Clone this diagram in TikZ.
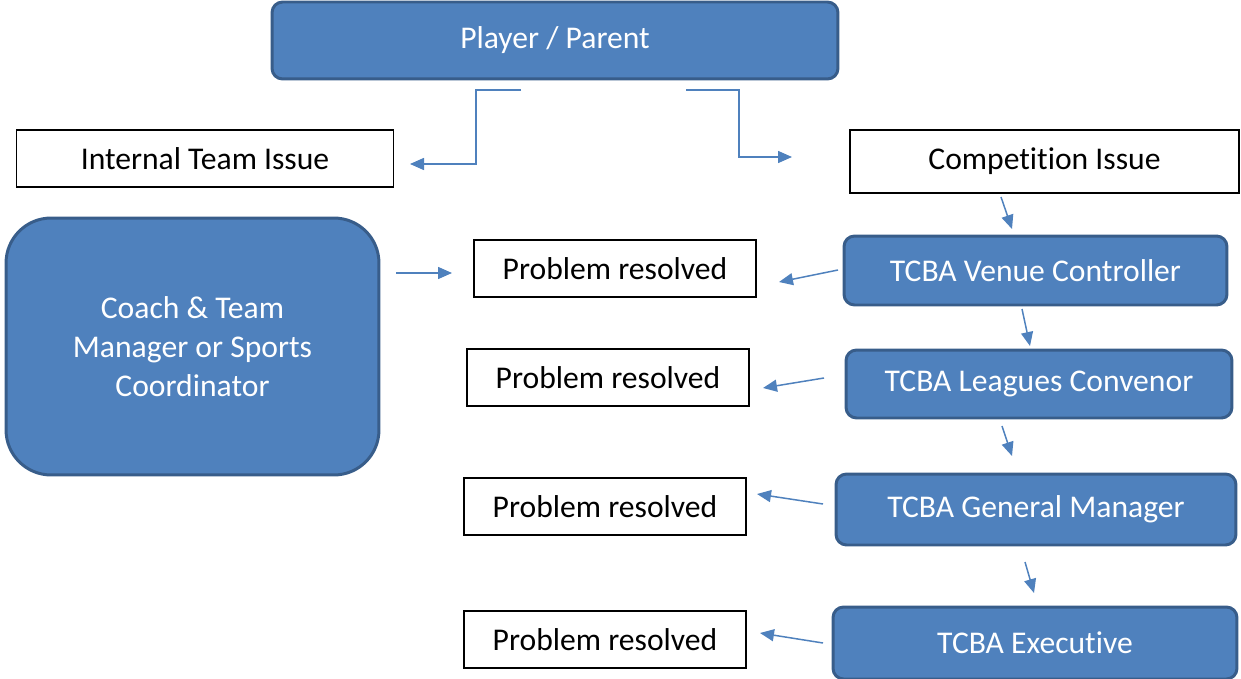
\documentclass[tikz,border=0pt]{standalone}
\usepackage{fontspec}
\setmainfont{Carlito}[Ligatures={NoCommon}]
\usepackage{tikz}
\usetikzlibrary{arrows.meta,positioning}

\definecolor{boxblue}{HTML}{4F81BD}
\definecolor{boxedge}{HTML}{385D8A}

\tikzset{
  bluebox/.style={draw=boxedge, fill=boxblue, line width=1.7pt, rounded corners=6pt,
    text=white, font=\fontsize{18}{22}\selectfont, align=center, inner sep=2pt},
  plainbox/.style={draw=black, line width=0.8pt, fill=white,
    font=\fontsize{18}{22}\selectfont, align=center, inner sep=2pt},
  arr/.style={draw=boxblue, line width=0.85pt,
    -{Triangle[length=0.28cm, width=0.24cm]}}
}

\begin{document}
\begin{tikzpicture}[x=0.02cm, y=-0.02cm]
\useasboundingbox (0,0) rectangle (1241,679);
\node [bluebox, minimum width=11.32cm, minimum height=1.54cm] (parent) at (555,40.5) {Player / Parent};
%----------------------------------
\node [plainbox, minimum width=7.54cm, minimum height=1.14cm] (internal) at (205,158.5) {Internal Team Issue};
\node [plainbox, minimum width=7.78cm, minimum height=1.26cm] (comp) at (1044.5,161.5) {Competition Issue};
\node [bluebox, rounded corners=0.9cm, minimum width=7.46cm, minimum height=5.14cm] (coach) at (192.5,346.5)
  {Coach \& Team\\ Manager or Sports\\ Coordinator};
%----------------------------------
\node [bluebox, minimum width=7.66cm, minimum height=1.38cm] (venue) at (1035.5,270.5) {TCBA Venue Controller};
\node [bluebox, minimum width=7.72cm, minimum height=1.36cm] (leagues) at (1039,384) {TCBA Leagues Convenor};
\node [bluebox, minimum width=8.0cm, minimum height=1.42cm] (gm) at (1036,509.5) {TCBA General Manager};
\node [bluebox, minimum width=8.08cm, minimum height=1.44cm] (exec) at (1035,643) {TCBA Executive};
%----------------------------------
\node [plainbox, minimum width=5.64cm, minimum height=1.14cm] (res1) at (615,268.5) {Problem resolved};
\node [plainbox, minimum width=5.64cm, minimum height=1.14cm] (res2) at (608,377.5) {Problem resolved};
\node [plainbox, minimum width=5.64cm, minimum height=1.14cm] (res3) at (605,506.5) {Problem resolved};
\node [plainbox, minimum width=5.64cm, minimum height=1.14cm] (res4) at (605,639.5) {Problem resolved};
%----------------------------------
\coordinate (l1) at (521,90); \coordinate (l2) at (410,164);
\coordinate (r1) at (686,90); \coordinate (r2) at (792,157);
\coordinate (c1) at (1001,197); \coordinate (c2) at (1012,229);
\coordinate (v1) at (1022,309); \coordinate (v2) at (1030,346);
\coordinate (g1) at (1002,426); \coordinate (g2) at (1012,456);
\coordinate (e1) at (1025,562); \coordinate (e2) at (1034,593);
\coordinate (k1) at (396,273); \coordinate (k2) at (452,273);
\coordinate (p1) at (838,270); \coordinate (p2) at (779,282);
\coordinate (q1) at (824,378); \coordinate (q2) at (763,388);
\coordinate (s1) at (823,504); \coordinate (s2) at (757,494);
\coordinate (t1) at (823,643); \coordinate (t2) at (760,633);
%----------------------------------
\draw [arr] (l1) -- (476,90) |- (l2);
\draw [arr] (r1) -- (739,90) |- (r2);
\draw [arr] (c1) -- (c2);
\draw [arr] (v1) -- (v2);
\draw [arr] (g1) -- (g2);
\draw [arr] (e1) -- (e2);
\draw [arr] (k1) -- (k2);
\draw [arr] (p1) -- (p2);
\draw [arr] (q1) -- (q2);
\draw [arr] (s1) -- (s2);
\draw [arr] (t1) -- (t2);
\end{tikzpicture}
\end{document}
